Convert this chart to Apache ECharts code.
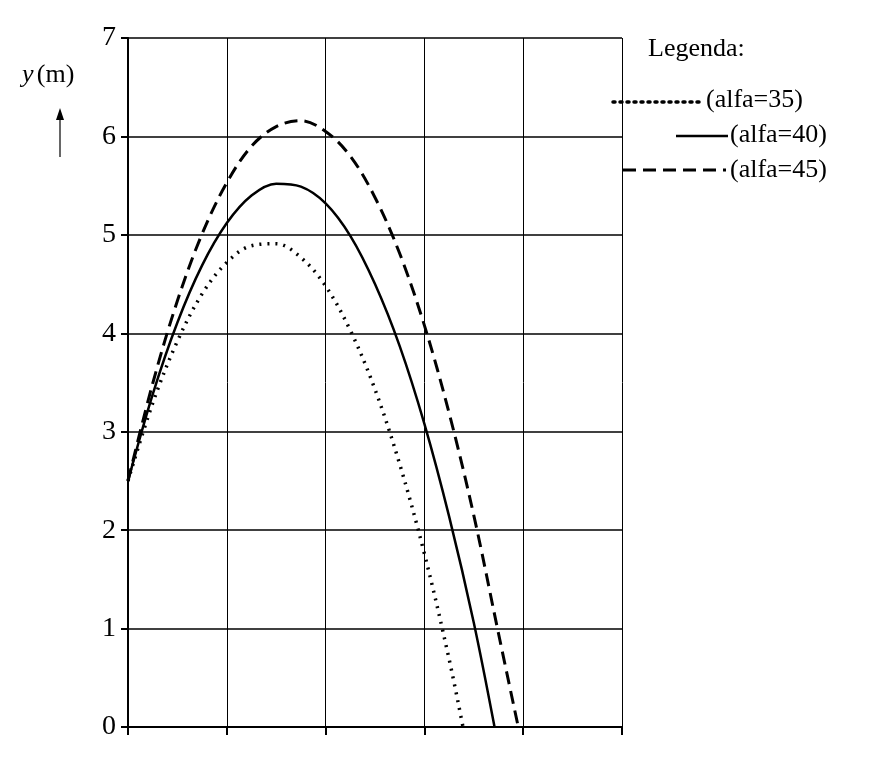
<!DOCTYPE html>
<html><head><meta charset="utf-8">
<script src="https://cdn.jsdelivr.net/npm/echarts@6/dist/echarts.min.js"></script>
<style>html,body{margin:0;background:#fff}#c{width:888px;height:768px}</style>
</head><body><div id="c"></div>
<script>
const yTicks = [0,1,2,3,4,5,6,7];
const names = ['(alfa=35)','(alfa=40)','(alfa=45)'];
const a35 = [[0,2.5],[0.25,3.29],[0.5,3.92],[0.75,4.40],[1,4.72],[1.25,4.89],[1.5,4.91],[1.75,4.77],[2,4.48],[2.25,4.03],[2.5,3.43],[2.75,2.67],[3,1.76],[3.25,0.69],[3.41,-0.1]];
const a40 = [[0,2.5],[0.25,3.38],[0.5,4.11],[0.75,4.69],[1,5.12],[1.25,5.40],[1.5,5.52],[1.75,5.49],[2,5.32],[2.25,4.99],[2.5,4.50],[2.75,3.87],[3,3.08],[3.25,2.14],[3.5,1.06],[3.71,0]];
const a45 = [[0,2.5],[0.25,3.49],[0.5,4.33],[0.75,5.01],[1,5.53],[1.25,5.90],[1.5,6.10],[1.75,6.16],[2,6.05],[2.25,5.80],[2.5,5.38],[2.75,4.81],[3,4.08],[3.25,3.19],[3.5,2.15],[3.75,0.95],[3.95,0]];
const serif = 'Liberation Serif';
const ch = echarts.init(document.getElementById('c'));
const mk = (n,d,type,w) => ({name:n,type:'line',data:d,showSymbol:false,smooth:0.35,
  lineStyle:{color:'#000',width:w,type:type},itemStyle:{color:'#000'}});
const F = '26px "Liberation Serif"';
ch.setOption({
  animation:false,
  grid:{left:128,right:266,top:38,bottom:41},
  xAxis:{type:'value',min:0,max:5,interval:1,
    axisLine:{show:true,lineStyle:{color:'#000',width:2}},
    axisTick:{show:true,inside:false,length:8,lineStyle:{color:'#000',width:2}},
    axisLabel:{show:false},
    splitLine:{show:true,lineStyle:{color:'#000',width:1}}},
  yAxis:{type:'value',min:0,max:7,interval:1,
    axisLine:{show:true,lineStyle:{color:'#000',width:2}},
    axisTick:{show:true,length:7,lineStyle:{color:'#000',width:2}},
    axisLabel:{color:'#000',fontFamily:serif,fontSize:28,margin:12,formatter:v=>yTicks.includes(v)?String(v):''},
    splitLine:{show:true,lineStyle:{color:'#000',width:1.5}}},
  graphic:[
    {type:'text',left:648,top:36,style:{text:'Legenda:',font:F,fill:'#000'}},
    {type:'text',left:706,top:87,style:{text:names[0],font:F,fill:'#000'}},
    {type:'text',left:730,top:122,style:{text:names[1],font:F,fill:'#000'}},
    {type:'text',left:730,top:157,style:{text:names[2],font:F,fill:'#000'}},
    {type:'text',left:22,top:62,style:{rich:{i:{fontFamily:serif,fontStyle:'italic',fontSize:26},r:{fontFamily:serif,fontSize:26}},text:'{i|y} {r|(m)}',fill:'#000'}},
    {type:'line',shape:{x1:60,y1:157,x2:60,y2:113},style:{stroke:'#000',lineWidth:1.2}},
    {type:'polygon',shape:{points:[[60,108],[56,120],[64,120]]},style:{fill:'#000'}},
    {type:'line',shape:{x1:613,y1:102,x2:702,y2:102},style:{stroke:'#000',lineWidth:3.5,lineDash:[2,5],lineCap:'round'}},
    {type:'line',shape:{x1:676,y1:136,x2:728,y2:136},style:{stroke:'#000',lineWidth:2.5}},
    {type:'line',shape:{x1:623,y1:170,x2:726,y2:170},style:{stroke:'#000',lineWidth:3,lineDash:[13,7]}}
  ],
  series:[mk(names[0],a35,[2,6],3.5),mk(names[1],a40,'solid',2.5),mk(names[2],a45,[13,7],3)]
});
</script></body></html>
